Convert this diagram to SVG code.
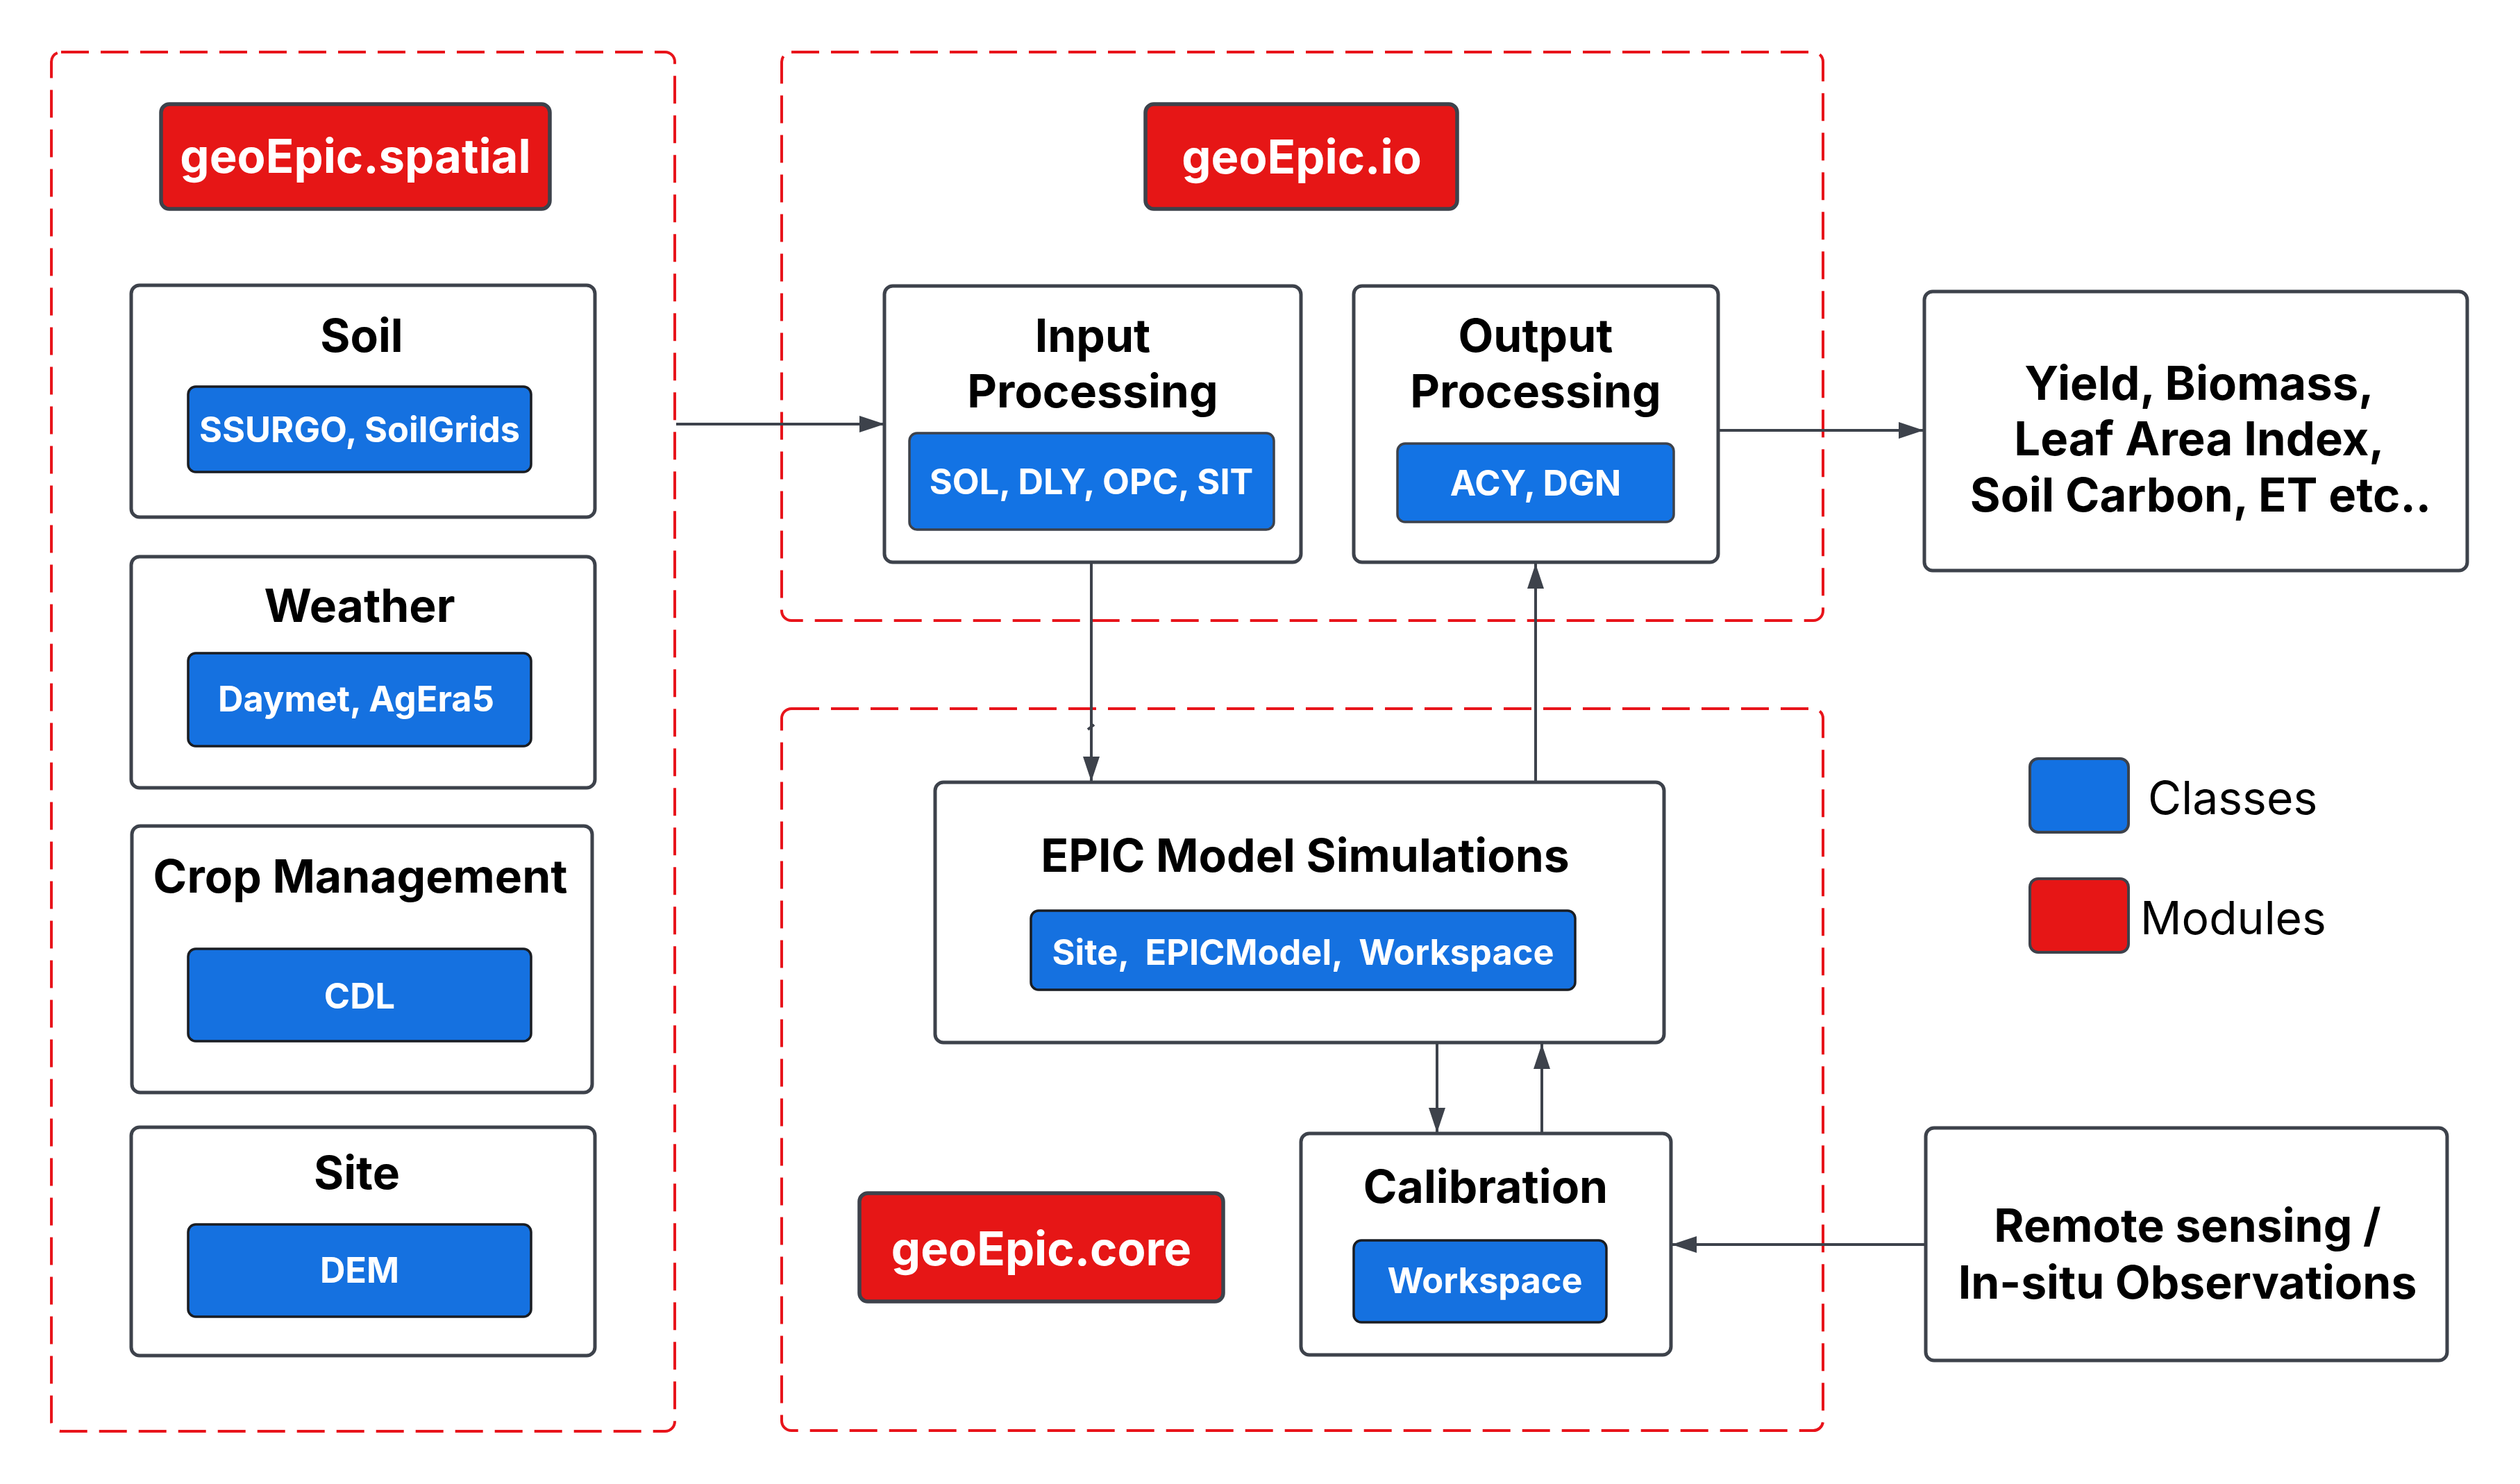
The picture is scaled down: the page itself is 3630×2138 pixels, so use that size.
<svg xmlns="http://www.w3.org/2000/svg" width="3630" height="2138" viewBox="0 0 3630 2138">
<defs>
<style>
.bg{fill:#ffffff}
.grp{fill:none;stroke:#e8141b;stroke-width:4;stroke-dasharray:40 17}
.node{fill:#ffffff;stroke:#3d424b;stroke-width:5}
.cls{fill:#1571e0;stroke:#1a1d22;stroke-width:3.5}
.cls2{fill:#1373e4;stroke:#3d424b;stroke-width:3.5}
.mod{fill:#e61616;stroke:#3d424b;stroke-width:5.5}
.title{font-family:Inter,"Liberation Sans",sans-serif;font-weight:700;font-size:66px;fill:#000000;text-anchor:middle}
.label{font-family:Inter,"Liberation Sans",sans-serif;font-weight:700;font-size:50.5px;fill:#ffffff;text-anchor:middle}
.modt{font-family:Inter,"Liberation Sans",sans-serif;font-weight:700;font-size:67px;fill:#ffffff;text-anchor:middle}
.leg{font-family:Inter,"Liberation Sans",sans-serif;font-weight:400;font-size:66px;fill:#000000}
.conn{fill:none;stroke:#3d424b;stroke-width:4}
</style>
<marker id="ah" markerUnits="userSpaceOnUse" markerWidth="36" markerHeight="24" refX="36" refY="12" orient="auto">
<path d="M0,0 L36,12 L0,24 z" fill="#3d424b"/>
</marker>
</defs>
<rect class="bg" x="0" y="0" width="3630" height="2138"/>

<g id="group-spatial">
<rect class="grp" x="74" y="75" width="898" height="1987" rx="14"/>
</g>
<g id="group-io">
<rect class="grp" x="1126" y="75" width="1500" height="819" rx="14"/>
</g>
<g id="group-core">
<rect class="grp" x="1126" y="1021" width="1500" height="1040" rx="14"/>
</g>

<g id="connectors">
<line class="conn" x1="974" y1="611" x2="1274" y2="611" marker-end="url(#ah)"/>
<line class="conn" x1="2475" y1="620" x2="2771" y2="620" marker-end="url(#ah)"/>
<line class="conn" x1="1572" y1="810" x2="1572" y2="1126" marker-end="url(#ah)"/>
<line class="conn" x1="1567" y1="1051" x2="1576" y2="1044"/>
<line class="conn" x1="2212" y1="1126" x2="2212" y2="812" marker-end="url(#ah)"/>
<line class="conn" x1="2070" y1="1502" x2="2070" y2="1632" marker-end="url(#ah)"/>
<line class="conn" x1="2221" y1="1632" x2="2221" y2="1504" marker-end="url(#ah)"/>
<line class="conn" x1="2773" y1="1793" x2="2408" y2="1793" marker-end="url(#ah)"/>
</g>

<g id="mod-spatial">
<rect class="mod" x="232" y="150" width="560" height="151" rx="12"/>
<text class="modt" x="512" y="249">geoEpic.spatial</text>
</g>

<g id="node-soil">
<rect class="node" x="189" y="411" width="668" height="334" rx="12"/>
<text class="title" x="521" y="507">Soil</text>
<rect class="cls" x="271" y="557" width="494" height="123" rx="11"/>
<text class="label" x="518" y="637">SSURGO, SoilGrids</text>
</g>

<g id="node-weather">
<rect class="node" x="189" y="802" width="668" height="333" rx="12"/>
<text class="title" x="518" y="896">Weather</text>
<rect class="cls" x="271" y="941" width="494" height="134" rx="11"/>
<text class="label" x="513" y="1025">Daymet, AgEra5</text>
</g>

<g id="node-crop">
<rect class="node" x="190" y="1190" width="663" height="384" rx="12"/>
<text class="title" x="519" y="1286">Crop Management</text>
<rect class="cls" x="271" y="1367" width="494" height="133" rx="11"/>
<text class="label" x="518" y="1453">CDL</text>
</g>

<g id="node-site">
<rect class="node" x="189" y="1624" width="668" height="329" rx="12"/>
<text class="title" x="514" y="1713">Site</text>
<rect class="cls" x="271" y="1764" width="494" height="133" rx="11"/>
<text class="label" x="518" y="1848">DEM</text>
</g>

<g id="mod-io">
<rect class="mod" x="1650" y="150" width="449" height="151" rx="12"/>
<text class="modt" x="1875" y="250">geoEpic.io</text>
</g>

<g id="node-input">
<rect class="node" x="1274" y="412" width="600" height="398" rx="12"/>
<text class="title" x="1574" y="507">Input</text>
<text class="title" x="1574" y="587">Processing</text>
<rect class="cls2" x="1310" y="624" width="525" height="139" rx="11"/>
<text class="label" x="1572" y="712">SOL, DLY, OPC, SIT</text>
</g>

<g id="node-output">
<rect class="node" x="1950" y="412" width="525" height="398" rx="12"/>
<text class="title" x="2212" y="507">Output</text>
<text class="title" x="2212" y="587">Processing</text>
<rect class="cls2" x="2013" y="639" width="398" height="113" rx="11"/>
<text class="label" x="2212" y="714">ACY, DGN</text>
</g>

<g id="node-yield">
<rect class="node" x="2772" y="420" width="782" height="402" rx="12"/>
<text class="title" x="3168" y="576" style="font-size:67px">Yield, Biomass,</text>
<text class="title" x="3168" y="656" style="font-size:67px">Leaf Area Index,</text>
<text class="title" x="3170" y="737" style="font-size:67px">Soil Carbon, ET etc..</text>
</g>

<g id="node-epic">
<rect class="node" x="1347" y="1127" width="1050" height="375" rx="12"/>
<text class="title" x="1880" y="1256">EPIC Model Simulations</text>
<rect class="cls" x="1485" y="1312" width="784" height="114" rx="11"/>
<text class="label" x="1877" y="1390" xml:space="preserve">Site,  EPICModel,  Workspace</text>
</g>

<g id="node-calibration">
<rect class="node" x="1874" y="1633" width="533" height="319" rx="12"/>
<text class="title" x="2140" y="1733">Calibration</text>
<rect class="cls" x="1950" y="1787" width="364" height="118" rx="11"/>
<text class="label" x="2139" y="1863">Workspace</text>
</g>

<g id="mod-core">
<rect class="mod" x="1238" y="1719" width="524" height="156" rx="12"/>
<text class="modt" x="1500" y="1823">geoEpic.core</text>
</g>

<g id="node-remote">
<rect class="node" x="2774" y="1625" width="751" height="335" rx="12"/>
<text class="title" x="3151" y="1789">Remote sensing /</text>
<text class="title" x="3151" y="1871">In-situ Observations</text>
</g>

<g id="legend">
<rect x="2924" y="1093" width="142" height="106" rx="12" fill="#1371e2" stroke="#3d424b" stroke-width="4"/>
<text class="leg" x="3094" y="1173">Classes</text>
<rect x="2924" y="1266" width="142" height="106" rx="12" fill="#e61616" stroke="#3d424b" stroke-width="4"/>
<text class="leg" x="3083" y="1346">Modules</text>
</g>
</svg>
